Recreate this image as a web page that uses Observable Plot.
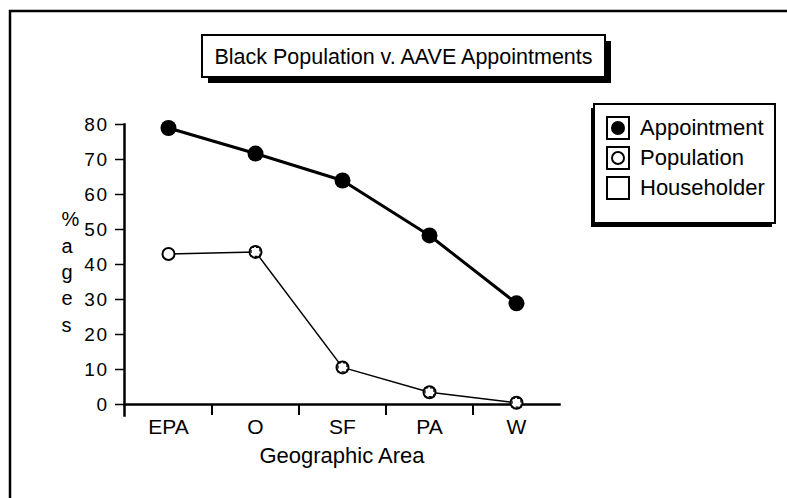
<!DOCTYPE html>
<html>
<head>
<meta charset="utf-8">
<script src="https://cdn.jsdelivr.net/npm/d3@7"></script>
<script src="https://cdn.jsdelivr.net/npm/@observablehq/plot@0.6"></script>
<style>
  html, body { margin: 0; padding: 0; background: white; }
  svg { display: block; }
</style>
</head>
<body>
<div id="chart"></div>
<script>
// ---- data ----
const categories = ["EPA", "O", "SF", "PA", "W"];
const appointment = [79, 71.7, 64, 48.3, 28.9];
const population = [43, 43.6, 10.6, 3.5, 0.5];
const householder = [null, 43.6, 10.6, 3.5, 0.5];
const yTicks = [0, 10, 20, 30, 40, 50, 60, 70, 80];
const seriesNames = ["Appointment", "Population", "Householder"];
const chartTitle = "Black Population v. AAVE Appointments";
const xTitle = "Geographic Area";
const yTitle = "%\na\ng\ne\ns";

// ---- table built from the arrays ----
const rows = (name, values) => categories.map((c, i) => ({series: name, cat: c, value: values[i]})).filter(d => d.value != null);
const appRows = rows(seriesNames[0], appointment);
const popRows = rows(seriesNames[1], population);
const houseRows = rows(seriesNames[2], householder);

const W = 787, H = 498;
const mL = 124, mR = 228, mT = 124, mB = 94;
const step = (W - mL - mR) / categories.length;
const font = "Liberation Sans, Arial, Helvetica, sans-serif";

const chart = Plot.plot({
  width: W, height: H,
  marginLeft: mL, marginRight: mR, marginTop: mT, marginBottom: mB,
  style: {fontFamily: font, background: "white", color: "black", overflow: "visible"},
  x: {type: "point", domain: categories, padding: 0.5, label: null},
  y: {domain: [0, 80], label: null},
  marks: [
    Plot.axisY(yTicks, {tickSize: 9, tickPadding: 7, fontSize: 19, strokeWidth: 1.5, tickFormat: d => String(d)}),
    Plot.axisX(categories, {tickSize: 0, tickPadding: 15, fontSize: 21}),
    Plot.axisX(categories.slice(1), {tickSize: 11, tickPadding: 0, dx: -step / 2, strokeWidth: 2, tickFormat: () => ""}),
    Plot.frame({anchor: "left", strokeWidth: 2.5, insetBottom: -11}),
    Plot.frame({anchor: "bottom", strokeWidth: 2.5}),
    Plot.text([xTitle], {frameAnchor: "bottom", dy: 58, fontSize: 22}),
    Plot.text([yTitle], {frameAnchor: "left", dx: -63, dy: 6, fontSize: 20, lineHeight: 1.32}),
    Plot.line(popRows, {x: "cat", y: "value", stroke: "black", strokeWidth: 1.5}),
    Plot.line(appRows, {x: "cat", y: "value", stroke: "black", strokeWidth: 3}),
    Plot.dot(appRows, {x: "cat", y: "value", r: 8, fill: "black", stroke: "none"}),
    Plot.dot(popRows, {x: "cat", y: "value", r: 6, fill: "white", stroke: "black", strokeWidth: 2}),
    Plot.dot(houseRows, {x: "cat", y: "value", symbol: "square", r: 5, fill: "none", stroke: "black", strokeWidth: 1.2, strokeDasharray: "3,2"})
  ]
});

document.getElementById("chart").appendChild(chart);

// ---- decorations: outer frame, title box, legend ----
const svg = d3.select(chart);
svg.select('g[aria-label="y-axis tick label"]').attr("letter-spacing", "1.5px");

const deco = svg.append("g").attr("fill", "none").attr("stroke", "black");
// outer frame (extends beyond the right and bottom of the picture)
deco.append("path").attr("d", `M10,${H + 5}L10,11L${W + 5},11`).attr("stroke-width", 2.5);

// title box with drop shadow
const tb = {x: 202, y: 35, w: 403, h: 42};
deco.append("rect").attr("x", tb.x + 6).attr("y", tb.y + 6).attr("width", tb.w).attr("height", tb.h)
  .attr("fill", "black").attr("stroke", "none");
deco.append("rect").attr("x", tb.x).attr("y", tb.y).attr("width", tb.w).attr("height", tb.h)
  .attr("fill", "white").attr("stroke-width", 2);
svg.append("text").attr("x", tb.x + tb.w / 2).attr("y", 64).attr("text-anchor", "middle")
  .attr("font-family", font).attr("font-size", 21.5).attr("fill", "black").text(chartTitle);

// legend box with shadow (left / bottom)
const lb = {x: 594, y: 104, w: 181, h: 119};
deco.append("rect").attr("x", lb.x - 3).attr("y", lb.y + 4).attr("width", lb.w).attr("height", lb.h)
  .attr("fill", "black").attr("stroke", "none");
deco.append("rect").attr("x", lb.x).attr("y", lb.y).attr("width", lb.w).attr("height", lb.h)
  .attr("fill", "white").attr("stroke-width", 2);
seriesNames.forEach((name, i) => {
  const y0 = 117 + i * 30;
  const g = svg.append("g");
  g.append("rect").attr("x", 607).attr("y", y0).attr("width", 22).attr("height", 22)
    .attr("fill", "white").attr("stroke", "black").attr("stroke-width", 2);
  if (i === 0) g.append("circle").attr("cx", 618).attr("cy", y0 + 11).attr("r", 7).attr("fill", "black");
  if (i === 1) g.append("circle").attr("cx", 618).attr("cy", y0 + 11).attr("r", 6).attr("fill", "white")
    .attr("stroke", "black").attr("stroke-width", 2);
  g.append("text").attr("x", 640).attr("y", y0 + 18).attr("text-anchor", "start")
    .attr("font-family", font).attr("font-size", 22).attr("fill", "black").text(name);
});
</script>
</body>
</html>
